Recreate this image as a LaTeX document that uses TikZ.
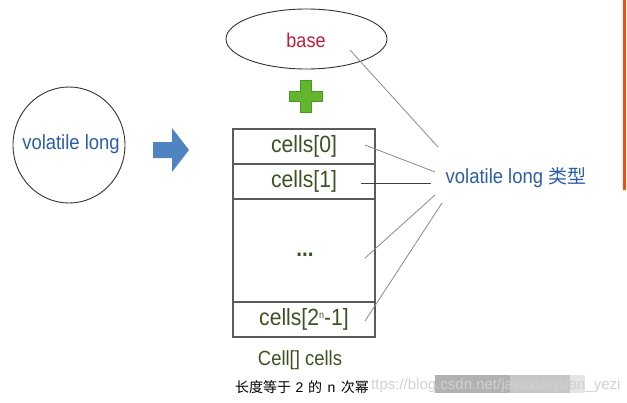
\documentclass[tikz,border=0pt]{standalone}
\usepackage{fontspec}
\setmainfont{Liberation Sans}
\newfontfamily\nf[FakeStretch=0.9]{Liberation Sans}
\newfontfamily\cjk{Noto Sans CJK SC}
\usetikzlibrary{shapes.geometric}
\definecolor{txtblue}{HTML}{2B5EA7}
\definecolor{txtred}{HTML}{BE1E3C}
\definecolor{txtgreen}{HTML}{3B5323}
\definecolor{arrowblue}{HTML}{5083C2}
\definecolor{plusgreen}{HTML}{62B52C}
\definecolor{plusdark}{HTML}{469A1C}
\definecolor{boxgray}{HTML}{5A5A5A}
\definecolor{linegray}{HTML}{8A8A8A}
\definecolor{marker}{HTML}{FF4A00}
\tikzset{
  ovalshape/.style={draw=black!80, line width=0.9pt, ellipse, inner sep=0pt},
  cellbox/.style={draw=boxgray, line width=1.2pt, rectangle, minimum width=142pt, inner sep=0pt,
     text=txtgreen, font=\nf\fontsize{23.5}{26}\selectfont},
  bluetext/.style={text=txtblue, font=\nf\fontsize{20.5}{24}\selectfont, inner sep=0pt},
  thinline/.style={draw=linegray, line width=0.8pt},
}
\begin{document}
\begin{tikzpicture}[x=1pt,y=-1pt]
\useasboundingbox (0,0) rectangle (627,402);

% left oval
\node[ovalshape, minimum width=112pt, minimum height=116pt] (vlo) at (69,145) {};
\node[bluetext] (vl) at (71,144) {volatile long};

% blue arrow
\fill[arrowblue] (153,142) -- (172,142) -- (172,128) -- (189,150) -- (172,172) -- (172,158) -- (153,158) -- cycle;

% base oval
\node[ovalshape, minimum width=161pt, minimum height=60pt] (baseo) at (306.5,39) {};
\node[text=txtred, font=\nf\fontsize{20}{24}\selectfont, inner sep=0pt] (base) at (306,40) {base};

% green plus
\filldraw[fill=plusgreen, draw=plusdark, line width=0.6pt]
  (300.5,80) -- (310.8,80) -- (310.8,91) -- (322,91) -- (322,101.5) -- (310.8,101.5)
  -- (310.8,112) -- (300.5,112) -- (300.5,101.5) -- (289,101.5) -- (289,91) -- (300.5,91) -- cycle;

% cells array
\node[cellbox, minimum height=35pt] (c0) at (304,146.5) {cells[0]};
\node[cellbox, minimum height=35pt] (c1) at (304,181.5) {cells[1]};
\node[cellbox, minimum height=103pt] (cd) at (304,250.5) {};
\node[text=txtgreen, font=\nf\bfseries\fontsize{23}{26}\selectfont, inner sep=0pt] (dots) at (305,255) {...};
\node[cellbox, minimum height=35pt] (cn) at (304,319.5)
  {cells[2\raisebox{7.5pt}{\fontsize{10}{11}\selectfont n}-1]};

\node[text=txtgreen, font=\nf\fontsize{20.5}{24}\selectfont, inner sep=0pt] (cap) at (300,360) {Cell[] cells};

% watermark
\fill[black!30] (435,375) rectangle (510,393);
\fill[black!22] (510,375) rectangle (570,393);
\fill[black!10] (570,375) rectangle (585,393);
\node[anchor=west, text=black!18, font=\fontsize{15}{18}\selectfont, inner sep=0pt] (wm) at (371,386) {ttps://blog.csdn.net/javaxueyuan\_yezi};

\node[font=\fontsize{14}{16}\selectfont, inner sep=0pt] (sub) at (302,387)
  {{\cjk 长度等于}\hspace{4.5pt}2\hspace{4.5pt}{\cjk 的}\hspace{5.5pt}n\hspace{5.5pt}{\cjk 次幂}};

% type label
\node[bluetext] (vt) at (516,178) {volatile long {\cjk\fontsize{19}{22}\selectfont 类型}};

% connector endpoints
\coordinate (pb) at (350,50);
\coordinate (p0) at (365,145);
\coordinate (p1) at (361,183);
\coordinate (pd) at (365,258);
\coordinate (pn) at (365,321);
\coordinate (qb) at (438,147);
\coordinate (q0) at (435,172);
\coordinate (q1) at (431,183);
\coordinate (qd) at (435,195);
\coordinate (qn) at (442,203);
\draw[thinline] (pb) -- (qb);
\draw[thinline] (p0) -- (q0);
\draw[thinline, draw=black!75] (p1) -- (q1);
\draw[thinline] (pd) -- (qd);
\draw[thinline] (pn) -- (qn);

% orange marker line at right edge
\coordinate (mt) at (624.5,0);
\coordinate (mb) at (624.5,190);
\draw[marker, line width=2.2pt] (mt) -- (mb);
\end{tikzpicture}
\end{document}
